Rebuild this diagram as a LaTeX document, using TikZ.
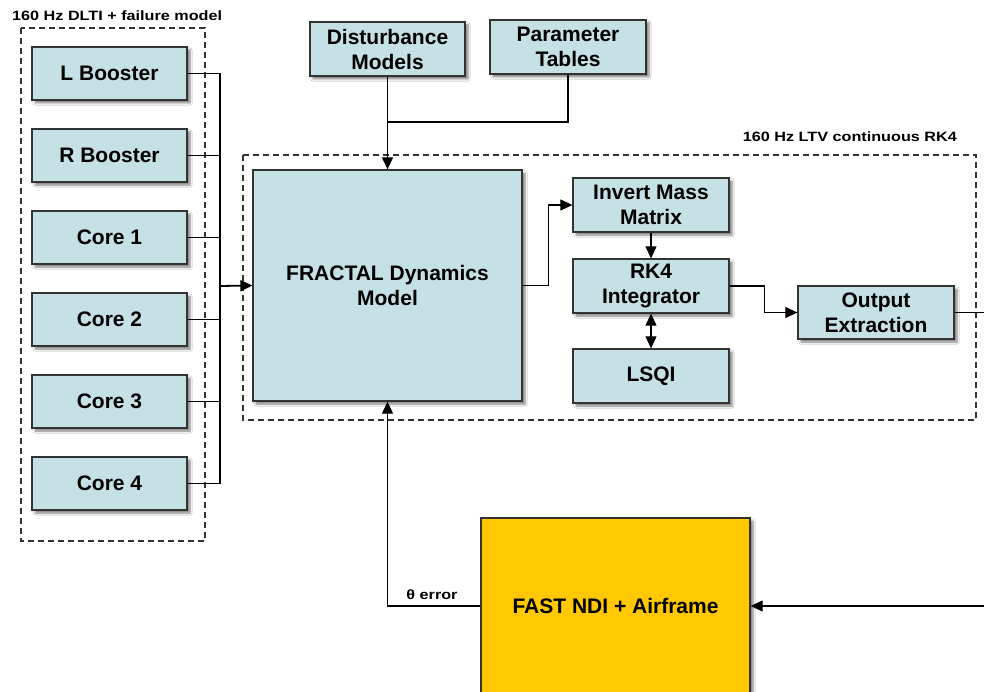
\documentclass[tikz,border=0pt]{standalone}
\usepackage{fontspec}
\setmainfont{Liberation Sans}
\usetikzlibrary{arrows.meta,shadows.blur}
\definecolor{boxfill}{HTML}{C5E1E6}
\definecolor{fastfill}{HTML}{FFC800}
\definecolor{edgegray}{HTML}{333333}
\tikzset{
  blk/.style={draw=edgegray, line width=1.3pt, fill=boxfill, inner sep=0pt,
    align=center, font=\fontsize{21}{25}\selectfont\bfseries,
    blur shadow={shadow xshift=3pt, shadow yshift=-3pt, shadow blur steps=6, shadow opacity=50}},
  smallbox/.style={blk, minimum width=156pt, minimum height=54pt},
  grp/.style={draw=edgegray, line width=1.1pt, dash pattern=on 6pt off 4pt},
  conn/.style={draw=black, line width=1.1pt},
  arr/.style={conn, -{Triangle[length=12pt,width=11pt]}},
  arrboth/.style={conn, {Triangle[length=12pt,width=11pt]}-{Triangle[length=12pt,width=11pt]}},
  lbl/.style={inner sep=0pt, font=\fontsize{13.5}{16}\selectfont\bfseries},
}
\newcommand{\wide}[1]{\scalebox{1.2}[1]{#1}}
\begin{document}
\begin{tikzpicture}[x=1pt,y=-1pt]
\useasboundingbox (0,0) rectangle (984,692);
\fill[white] (0,0) rectangle (984,692);

% group frames
\draw[grp] (21,28) rectangle (205,541);
\draw[grp] (243,155) rectangle (976,420);
\node[lbl, anchor=west] (glabL) at (12,16) {\wide{160 Hz DLTI + failure model}};
\node[lbl, anchor=east] (glabR) at (957,137) {\wide{160 Hz LTV continuous RK4}};

% left column
\node[smallbox, minimum width=155pt, minimum height=53pt] (lb) at (109.5,73.5) {L Booster};
\node[smallbox, minimum width=155pt, minimum height=53pt] (rb) at (109.5,155.5) {R Booster};
\node[smallbox, minimum width=155pt, minimum height=53pt] (c1) at (109.5,237.5) {Core 1};
\node[smallbox, minimum width=155pt, minimum height=53pt] (c2) at (109.5,319.5) {Core 2};
\node[smallbox, minimum width=155pt, minimum height=53pt] (c3) at (109.5,401.5) {Core 3};
\node[smallbox, minimum width=155pt, minimum height=53pt] (c4) at (109.5,483.5) {Core 4};

% top
\node[smallbox, minimum width=155pt] (dist) at (387.5,49) {Disturbance\\Models};
\node[smallbox] (param) at (568,47) {Parameter\\Tables};

% main
\node[blk, minimum width=269pt, minimum height=231pt] (frac) at (387.5,285.5) {FRACTAL Dynamics\\Model};
\node[smallbox] (inv) at (651,205) {Invert Mass\\Matrix};
\node[smallbox] (rk4) at (651,286) {RK4\\Integrator};
\node[smallbox] (lsqi) at (651,376) {LSQI};
\node[smallbox, minimum height=53pt] (out) at (876,312.5) {Output\\Extraction};

% plant
\node[blk, fill=fastfill, minimum width=269pt, minimum height=176pt] (fast) at (615.5,606) {FAST NDI + Airframe};

% connectors
\coordinate (bus) at (220,286);
\foreach \b in {lb,rb,c1,c2,c3,c4} { \draw[conn] (\b.east) -| (bus); }
\draw[arr, line width=1.8pt] (bus) -- (frac.west);

\coordinate (join) at (387.5,122);
\draw[arr] (dist.south) -- (frac.north);
\draw[conn] (param.south) |- (join);

\draw[arr] (frac.east) -- ++(26,0) |- (inv.west);
\draw[arr] (inv.south) -- (rk4.north);
\draw[arrboth] (rk4.south) -- (lsqi.north);
\draw[arr] (rk4.east) -- ++(35,0) |- (out.west);

\coordinate (outR) at (984,312.5);
\draw[conn] (out.east) -- (outR);

\coordinate (inR) at (984,606);
\draw[arr] (inR) -- (fast.east);

\draw[arr] (fast.west) -| (frac.south);
\node[lbl] (err) at (432,595) {\wide{θ error}};
\end{tikzpicture}
\end{document}
